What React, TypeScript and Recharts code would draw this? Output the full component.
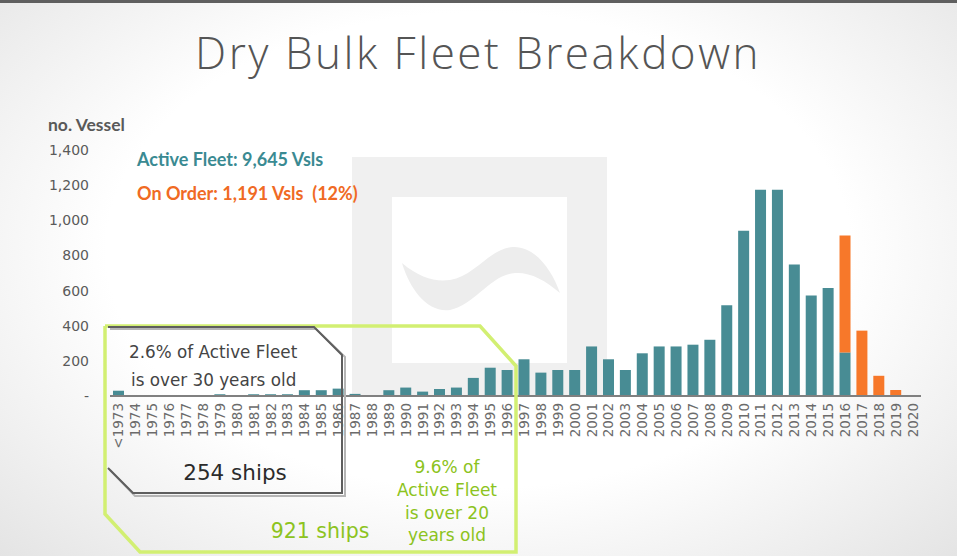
import React from "react";
import { BarChart, Bar, XAxis, YAxis } from "recharts";

// Build year categories
const years = [
  "<1973", "1974", "1975", "1976", "1977", "1978", "1979", "1980", "1981", "1982",
  "1983", "1984", "1985", "1986", "1987", "1988", "1989", "1990", "1991", "1992",
  "1993", "1994", "1995", "1996", "1997", "1998", "1999", "2000", "2001", "2002",
  "2003", "2004", "2005", "2006", "2007", "2008", "2009", "2010", "2011", "2012",
  "2013", "2014", "2015", "2016", "2017", "2018", "2019", "2020",
];

// Active fleet by build year (no. vessels)
const activeFleet = [
  30, 0, 0, 0, 0, 0, 10, 3, 10, 10,
  10, 33, 33, 42, 12, 0, 33, 48, 25, 40,
  48, 103, 161, 148, 209, 133, 148, 148, 282, 209,
  148, 243, 282, 282, 292, 320, 517, 941, 1174, 1174,
  748, 572, 614, 248, 0, 0, 0, 0,
];

// Orderbook by delivery year
const onOrder = [
  0, 0, 0, 0, 0, 0, 0, 0, 0, 0,
  0, 0, 0, 0, 0, 0, 0, 0, 0, 0,
  0, 0, 0, 0, 0, 0, 0, 0, 0, 0,
  0, 0, 0, 0, 0, 0, 0, 0, 0, 0,
  0, 0, 0, 665, 372, 115, 34, 5,
];

const yTicks = [0, 200, 400, 600, 800, 1000, 1200, 1400];

const data = years.map((year, i) => ({
  year,
  active: activeFleet[i],
  order: onOrder[i],
}));

const TEAL = "#488c94";
const ORANGE = "#f7782a";
const LIME = "#d2ef72";
const LIME_TEXT = "#8cc320";

const YearTick = ({ x, y, payload }: any) => (
  <text
    x={0}
    y={0}
    transform={`translate(${x},${y}) rotate(-90)`}
    textAnchor="end"
    dominantBaseline="central"
    fontSize={13.5}
    fill="#6b6b6b"
    fontFamily="DejaVu Sans"
  >
    {payload.value}
  </text>
);

function Watermark() {
  return (
    <svg width={957} height={556} style={{ position: "absolute", left: 0, top: 0 }}>
      <rect x={352} y={157} width={255} height={239} fill="#f0f0f0" />
      <rect x={392} y={197} width={175} height={166} fill="#ffffff" />
      <path
        d="M402,263 C420,278 435,282 450,280 C475,276 490,248 513,247 C535,246 552,270 560,293 C545,280 530,272 515,273 C490,275 475,305 450,310 C428,313 410,290 402,263 Z"
        fill="#ededed"
      />
    </svg>
  );
}

function Overlay() {
  return (
    <svg
      width={957}
      height={556}
      style={{ position: "absolute", left: 0, top: 0, pointerEvents: "none" }}
    >
      <rect x={0} y={0} width={957} height={3} fill="#5f5f5f" />
      <text
        x={478}
        y={69}
        textAnchor="middle"
        fontFamily="Open Sans"
        fontWeight={300}
        fontSize={44}
        letterSpacing={2.5}
        fill="#555555"
      >
        Dry Bulk Fleet Breakdown
      </text>

      <text x={48} y={131} fontFamily="Lato" fontWeight={700} fontSize={17.5} fill="#595959">
        no. Vessel
      </text>
      <text x={137} y={166} fontFamily="Lato" fontWeight={700} fontSize={18} fill="#3a8a92">
        Active Fleet: 9,645 Vsls
      </text>
      <text
        x={137}
        y={200}
        fontFamily="Lato"
        fontWeight={700}
        fontSize={18}
        fill="#f06a24"
        style={{ whiteSpace: "pre" }}
      >
        On Order: 1,191 Vsls  (12%)
      </text>

      {/* over 20 years box */}
      <polyline
        points="105,326 480,326 516,366 516,552 140,552 105,514 105,326"
        fill="none"
        stroke={LIME}
        strokeWidth={3.5}
      />
      {/* over 30 years box */}
      <polyline
        points="110,329 316,329 345,357 345,496 135,496 110,470"
        fill="none"
        stroke="#b5b5b5"
        strokeWidth={2}
      />
      <polyline
        points="108,327 314,327 342,355 342,493 133,493 108,468"
        fill="none"
        stroke="#5e5e5e"
        strokeWidth={2}
      />

      <g fontFamily="DejaVu Sans" fill="#444444" fontSize={16.8}>
        <text x={129} y={358}>2.6% of Active Fleet</text>
        <text x={131} y={386}>is over 30 years old</text>
      </g>
      <text x={235} y={480} textAnchor="middle" fontFamily="DejaVu Sans" fontSize={21.5} fill="#2b2b2b">
        254 ships
      </text>

      <g fontFamily="DejaVu Sans" fill={LIME_TEXT} fontSize={17} textAnchor="middle">
        <text x={447} y={473}>9.6% of</text>
        <text x={447} y={496}>Active Fleet</text>
        <text x={447} y={519}>is over 20</text>
        <text x={447} y={541}>years old</text>
      </g>
      <text x={320} y={538} textAnchor="middle" fontFamily="DejaVu Sans" fontSize={20.5} fill={LIME_TEXT}>
        921 ships
      </text>
    </svg>
  );
}

export default function App() {
  return (
    <div
      style={{
        position: "absolute",
        left: 0,
        top: 0,
        width: 957,
        height: 556,
        overflow: "hidden",
        background: "radial-gradient(ellipse at 50% 45%, #ffffff 55%, #e4e4e4 100%)",
      }}
    >
      <Watermark />
      <div style={{ position: "absolute", left: 0, top: 0 }}>
        <BarChart
          width={957}
          height={556}
          data={data}
          margin={{ top: 150, right: 36, left: 0, bottom: 100 }}
          barSize={11}
        >
          <XAxis
            dataKey="year"
            interval={0}
            tickLine={false}
            tickMargin={1}
            height={60}
            axisLine={{ stroke: "#808080", strokeWidth: 2 }}
            tick={<YearTick />}
          />
          <YAxis
            width={110}
            domain={[0, 1400]}
            ticks={yTicks}
            axisLine={false}
            tickLine={false}
            tickMargin={15}
            tick={{ fontSize: 14, fill: "#5a5a5a", fontFamily: "DejaVu Sans" }}
            tickFormatter={(v: number) => (v === 0 ? "-" : v.toLocaleString("en-US"))}
          />
          <Bar dataKey="active" stackId="a" fill={TEAL} isAnimationActive={false} />
          <Bar dataKey="order" stackId="a" fill={ORANGE} isAnimationActive={false} />
        </BarChart>
      </div>
      <Overlay />
    </div>
  );
}
